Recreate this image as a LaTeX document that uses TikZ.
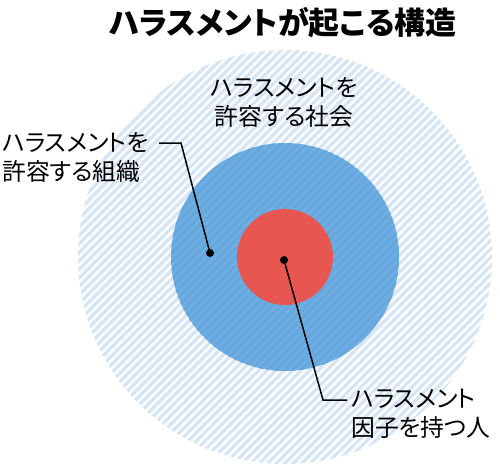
\documentclass[tikz,border=0pt]{standalone}
\usepackage{fontspec}
\newfontfamily\cjk[RawFeature=+palt]{Noto Sans CJK JP}
\definecolor{stripelight}{HTML}{D5E5F5}
\definecolor{bluefill}{HTML}{6EAEE3}
\definecolor{bluestripe}{HTML}{66A7DE}
\definecolor{redfill}{HTML}{E85651}
\tikzset{
  lbl/.style={font=\cjk\fontsize{23.8}{29}\selectfont, inner sep=0pt, text=black},
  titlestyle/.style={font=\cjk\bfseries\fontsize{31}{36}\selectfont, inner sep=0pt},
  leader/.style={draw=black, line width=1.5pt, line join=miter},
  dotmark/.style={fill=black},
  outerstripe/.style={draw=stripelight, line width=3.2pt},
  innerstripe/.style={draw=bluestripe, line width=3pt}
}
\begin{document}
\begin{tikzpicture}[x=1pt,y=-1pt]
\useasboundingbox (0,0) rectangle (500,464);
% outer hatched circle
\coordinate (c) at (285,257);
\begin{scope}
  \clip (c) circle[radius=207pt];
  \foreach \a in {-480,-471.5,...,500} \draw[outerstripe] (\a,480) -- (\a+500,-20);
\end{scope}
% blue circle
\fill[bluefill] (c) circle[radius=114pt];
\begin{scope}
  \clip (c) circle[radius=114pt];
  \foreach \a in {-480,-471.5,...,500} \draw[innerstripe] (\a,480) -- (\a+500,-20);
\end{scope}
% red circle
\fill[redfill] (c) circle[radius=48pt];
% title
\node[titlestyle] (title) at (283,23) {ハラスメントが起こる構造};
% labels
\node[lbl, align=center] (society) at (284,102.5) {ハラスメントを\\許容する社会};
\node[lbl, align=left, anchor=west] (org) at (2,157.5) {ハラスメントを\\許容する組織};
\node[lbl, align=left, anchor=west] (person) at (351,414) {ハラスメント\\因子を持つ人};
% connectors
\coordinate (orgdot) at (210,253);
\coordinate (orgbend) at (181,143);
\coordinate (orgend) at (159,143);
\coordinate (persondot) at (284,260);
\coordinate (personbend) at (323,400);
\coordinate (personend) at (347,400);
\draw[leader] (orgend) -- (orgbend) -- (orgdot);
\draw[leader] (persondot) -- (personbend) -- (personend);
\fill[dotmark] (orgdot) circle[radius=4pt];
\fill[dotmark] (persondot) circle[radius=4pt];
\end{tikzpicture}
\end{document}
